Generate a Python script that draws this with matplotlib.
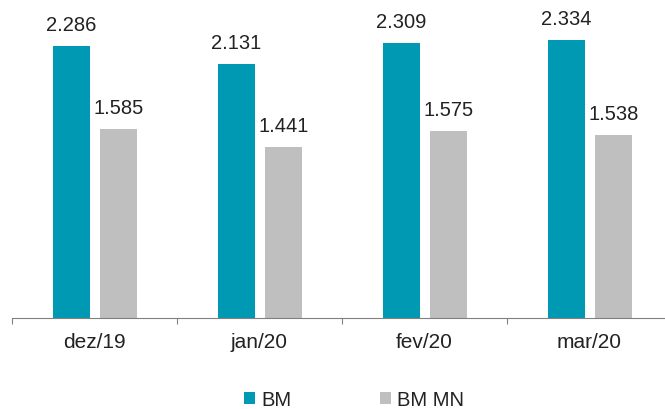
import matplotlib
matplotlib.use("Agg")
import matplotlib.pyplot as plt
import numpy as np

categories = ["dez/19", "jan/20", "fev/20", "mar/20"]
bm = [2.286, 2.131, 2.309, 2.334]
bm_mn = [1.585, 1.441, 1.575, 1.538]
series_names = ["BM", "BM MN"]

plt.rcParams["font.family"] = ["Liberation Sans", "DejaVu Sans"]

fig = plt.figure(figsize=(6.65, 4.10), dpi=100)
# axis runs slightly past the right edge of the picture, as in the original
ax = fig.add_axes([0.018, 0.2212, 0.9925, 0.7788])

x = np.arange(len(categories))
w = 0.224
teal = "#0099B4"
grey = "#BFBFBF"
txt = "#222222"
b1 = ax.bar(x - 0.141, bm, w, color=teal, label=series_names[0])
b2 = ax.bar(x + 0.145, bm_mn, w, color=grey, label=series_names[1])

for rects, vals in [(b1, bm), (b2, bm_mn)]:
    for r, v in zip(rects, vals):
        ax.annotate(f"{v:.3f}", (r.get_x() + r.get_width() / 2, v),
                    xytext=(0, 11.5), textcoords="offset points",
                    ha="center", va="baseline", fontsize=14.5, color=txt)

ax.set_xlim(-0.5, 3.5)
ax.set_ylim(0, 2.679)
ax.set_yticks([])
for s in ["top", "right", "left"]:
    ax.spines[s].set_visible(False)
ax.spines["bottom"].set_color("#808080")
ax.set_xticks(np.arange(-0.5, 4.0, 1.0))
ax.set_xticklabels([])
ax.tick_params(axis="x", which="major", length=4.5, color="#808080", direction="out")
ax.set_xticks(x, minor=True)
ax.set_xticklabels(categories, minor=True, fontsize=15, color=txt)
ax.tick_params(axis="x", which="minor", length=0, pad=10)

fig.legend(handles=[b1, b2], loc="center", bbox_to_anchor=(0.532, 0.022),
           ncol=2, frameon=False, fontsize=14.5, handlelength=0.55, handleheight=0.55,
           columnspacing=4.4, handletextpad=0.3, labelcolor=txt, borderpad=0)

fig.savefig("out.png", dpi=100)
